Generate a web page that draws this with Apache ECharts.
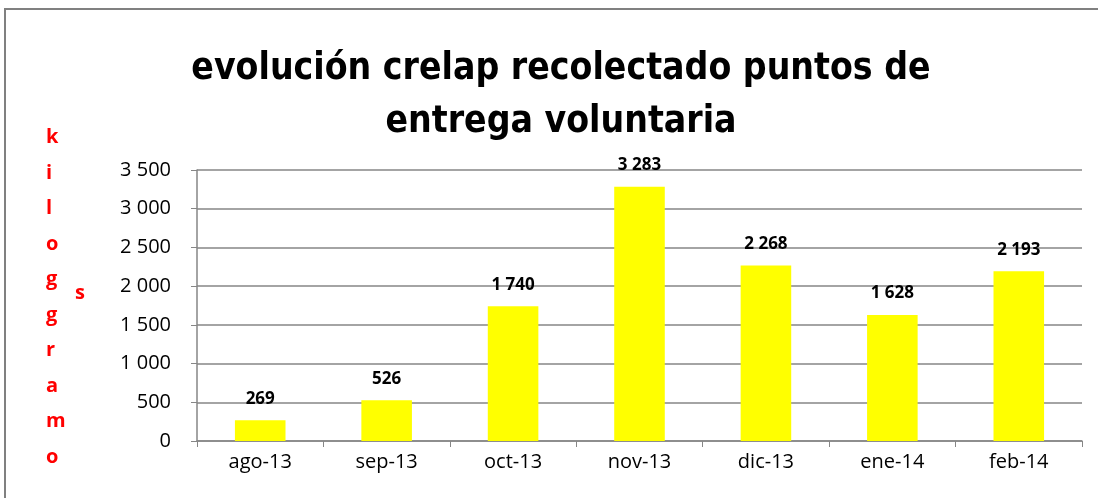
<!DOCTYPE html>
<html>
<head>
<meta charset="utf-8">
<script src="https://cdn.jsdelivr.net/npm/echarts@6/dist/echarts.min.js"></script>
<style>
  html, body { margin: 0; padding: 0; background: #fff; }
  #main { width: 1098px; height: 498px; }
</style>
</head>
<body>
<div id="main"></div>
<script>
var meses = ['ago-13', 'sep-13', 'oct-13', 'nov-13', 'dic-13', 'ene-14', 'feb-14'];
var kilos = [269, 526, 1740, 3283, 2268, 1628, 2193];
var letrasEje = ['k', 'i', 'l', 'o', 'g', 'g', 'r', 'a', 'm', 'o'];

// separador de miles con espacio
function fmt(v) {
	return String(v).replace(/\B(?=(\d{3})+(?!\d))/g, ' ');
}

var chart = echarts.init(document.getElementById('main'));

var option = {
	animation: false,
	backgroundColor: '#fff',
	title: {
		text: 'evolución crelap recolectado puntos de\nentrega voluntaria',
		left: 556,
		top: 38,
		textAlign: 'center',
		textStyle: {
			fontFamily: '"DejaVu Sans Condensed", sans-serif',
			fontSize: 37,
			fontWeight: 'bold',
			color: '#000',
			lineHeight: 53
		}
	},
	grid: {
		left: 197,
		right: 16,
		top: 170,
		bottom: 57
	},
	xAxis: {
		type: 'category',
		data: meses,
		axisLine: { lineStyle: { color: '#868686', width: 1.5 } },
		axisTick: { show: true, length: 6, lineStyle: { color: '#868686' } },
		axisLabel: {
			color: '#000',
			fontSize: 20,
			fontFamily: '"Open Sans", sans-serif',
			margin: 11
		}
	},
	yAxis: {
		type: 'value',
		min: 0,
		max: 3500,
		interval: 500,
		axisLine: { show: true, lineStyle: { color: '#868686', width: 1.5 } },
		axisTick: { show: true, length: 6, lineStyle: { color: '#868686' } },
		splitLine: { lineStyle: { color: '#868686', width: 1.5 } },
		axisLabel: {
			color: '#000',
			fontSize: 20,
			fontFamily: '"Open Sans", sans-serif',
			margin: 26,
			formatter: fmt
		}
	},
	series: [{
		type: 'bar',
		data: kilos,
		barCategoryGap: '60%',
		itemStyle: { color: '#ffff00' },
		label: {
			show: true,
			position: 'top',
			distance: 13,
			color: '#000',
			fontWeight: 'bold',
			fontSize: 17,
			fontFamily: '"Open Sans", sans-serif',
			formatter: function(p) { return fmt(p.value); }
		}
	}],
	graphic: {
		elements: [
			{
				type: 'polyline',
				shape: { points: [[5, 500], [5, 9], [1100, 9]] },
				style: { stroke: '#808080', lineWidth: 2, fill: null }
			},
			{
				type: 'text',
				left: 46,
				top: 120,
				style: {
					text: letrasEje.join('\n'),
					fill: '#ff0000',
					font: 'bold 20px "Open Sans", sans-serif',
					lineHeight: 35.5,
					align: 'center'
				}
			},
			{
				type: 'text',
				left: 75,
				top: 283,
				style: {
					text: 's',
					fill: '#ff0000',
					font: 'bold 20px "Open Sans", sans-serif'
				}
			}
		]
	}
};

chart.setOption(option);
</script>
</body>
</html>
